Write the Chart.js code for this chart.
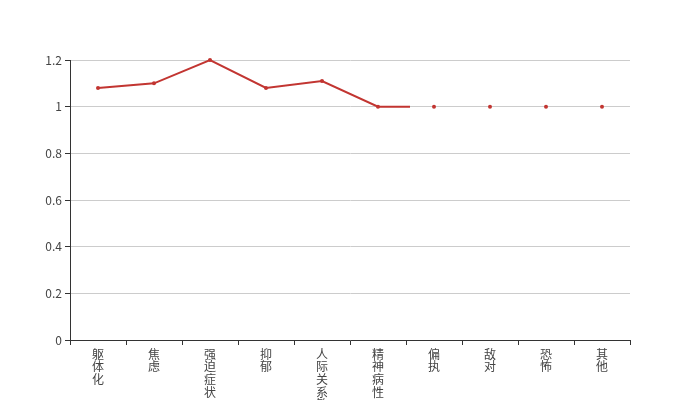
<!DOCTYPE html>
<html>
<head>
<meta charset="utf-8">
<script src="https://cdn.jsdelivr.net/npm/chart.js@4"></script>
<style>
  html, body { margin: 0; padding: 0; background: #fff; }
  #chart { display: block; }
</style>
</head>
<body>
<canvas id="chart" width="700" height="400"></canvas>
<script>
// factor names and mean scores
var categories = ['躯体化', '焦虑', '强迫症状', '抑郁', '人际关系敏感', '精神病性', '偏执', '敌对', '恐怖', '其他'];
var scores = [1.08, 1.10, 1.20, 1.08, 1.11, 1.00, 1.00, 1.00, 1.00, 1.00];
var yTicks = [0, 0.2, 0.4, 0.6, 0.8, 1, 1.2];

var red = '#c23531';
var axisColor = '#333';
var textColor = '#444';

// the line stops a bit past the 6th point (partly drawn), points are all shown
var lineStopAfter = 5, lineStopFrac = 0.57;
var clipLine = {
    id: 'clipLine',
    beforeDatasetDraw: function (chart, args) {
        if (args.index !== 0) return;
        var x = chart.scales.x;
        var a = x.getPixelForValue(lineStopAfter), b = x.getPixelForValue(lineStopAfter + 1);
        var stop = a + (b - a) * lineStopFrac;
        var ctx = chart.ctx;
        ctx.save();
        ctx.beginPath();
        ctx.rect(0, 0, stop, chart.height);
        ctx.clip();
    },
    afterDatasetDraw: function (chart, args) {
        if (args.index !== 0) return;
        chart.ctx.restore();
    }
};

var font = { family: '"Noto Sans CJK SC", "Noto Sans", sans-serif', size: 12 };

new Chart(document.getElementById('chart').getContext('2d'), {
    type: 'line',
    data: {
        labels: categories,
        datasets: [{
            data: scores,
            borderColor: red,
            borderWidth: 2,
            pointRadius: 0,
            fill: false,
            tension: 0,
            clip: false
        }, {
            data: scores,
            showLine: false,
            pointRadius: 2,
            pointBackgroundColor: red,
            pointBorderColor: red,
            pointBorderWidth: 0,
            clip: false
        }]
    },
    plugins: [clipLine],
    options: {
        responsive: false,
        animation: false,
        layout: { padding: { left: 0, right: 70, top: 60, bottom: 0 } },
        plugins: { legend: { display: false }, tooltip: { enabled: false } },
        scales: {
            x: {
                offset: true,
                grid: { offset: true, drawOnChartArea: false, tickLength: 5, tickColor: axisColor, tickWidth: 1 },
                border: { display: true, color: axisColor, width: 1 },
                afterFit: function (s) { s.height = 60; },
                ticks: {
                    maxRotation: 0, minRotation: 0, autoSkip: false,
                    color: textColor, padding: 3,
                    font: { family: font.family, size: 12, lineHeight: 1.05 },
                    callback: function (v, i) { return categories[i].split(''); }
                }
            },
            y: {
                min: 0, max: 1.2,
                afterBuildTicks: function (s) { s.ticks = yTicks.map(function (v) { return { value: v }; }); },
                afterFit: function (s) { s.width = 70; },
                grid: { color: '#ccc', tickColor: axisColor, tickLength: 5, lineWidth: 1 },
                border: { display: true, color: axisColor, width: 1 },
                ticks: {
                    color: textColor, padding: 3, font: font,
                    callback: function (v) { return String(+v.toFixed(1)); }
                }
            }
        }
    }
});
</script>
</body>
</html>
